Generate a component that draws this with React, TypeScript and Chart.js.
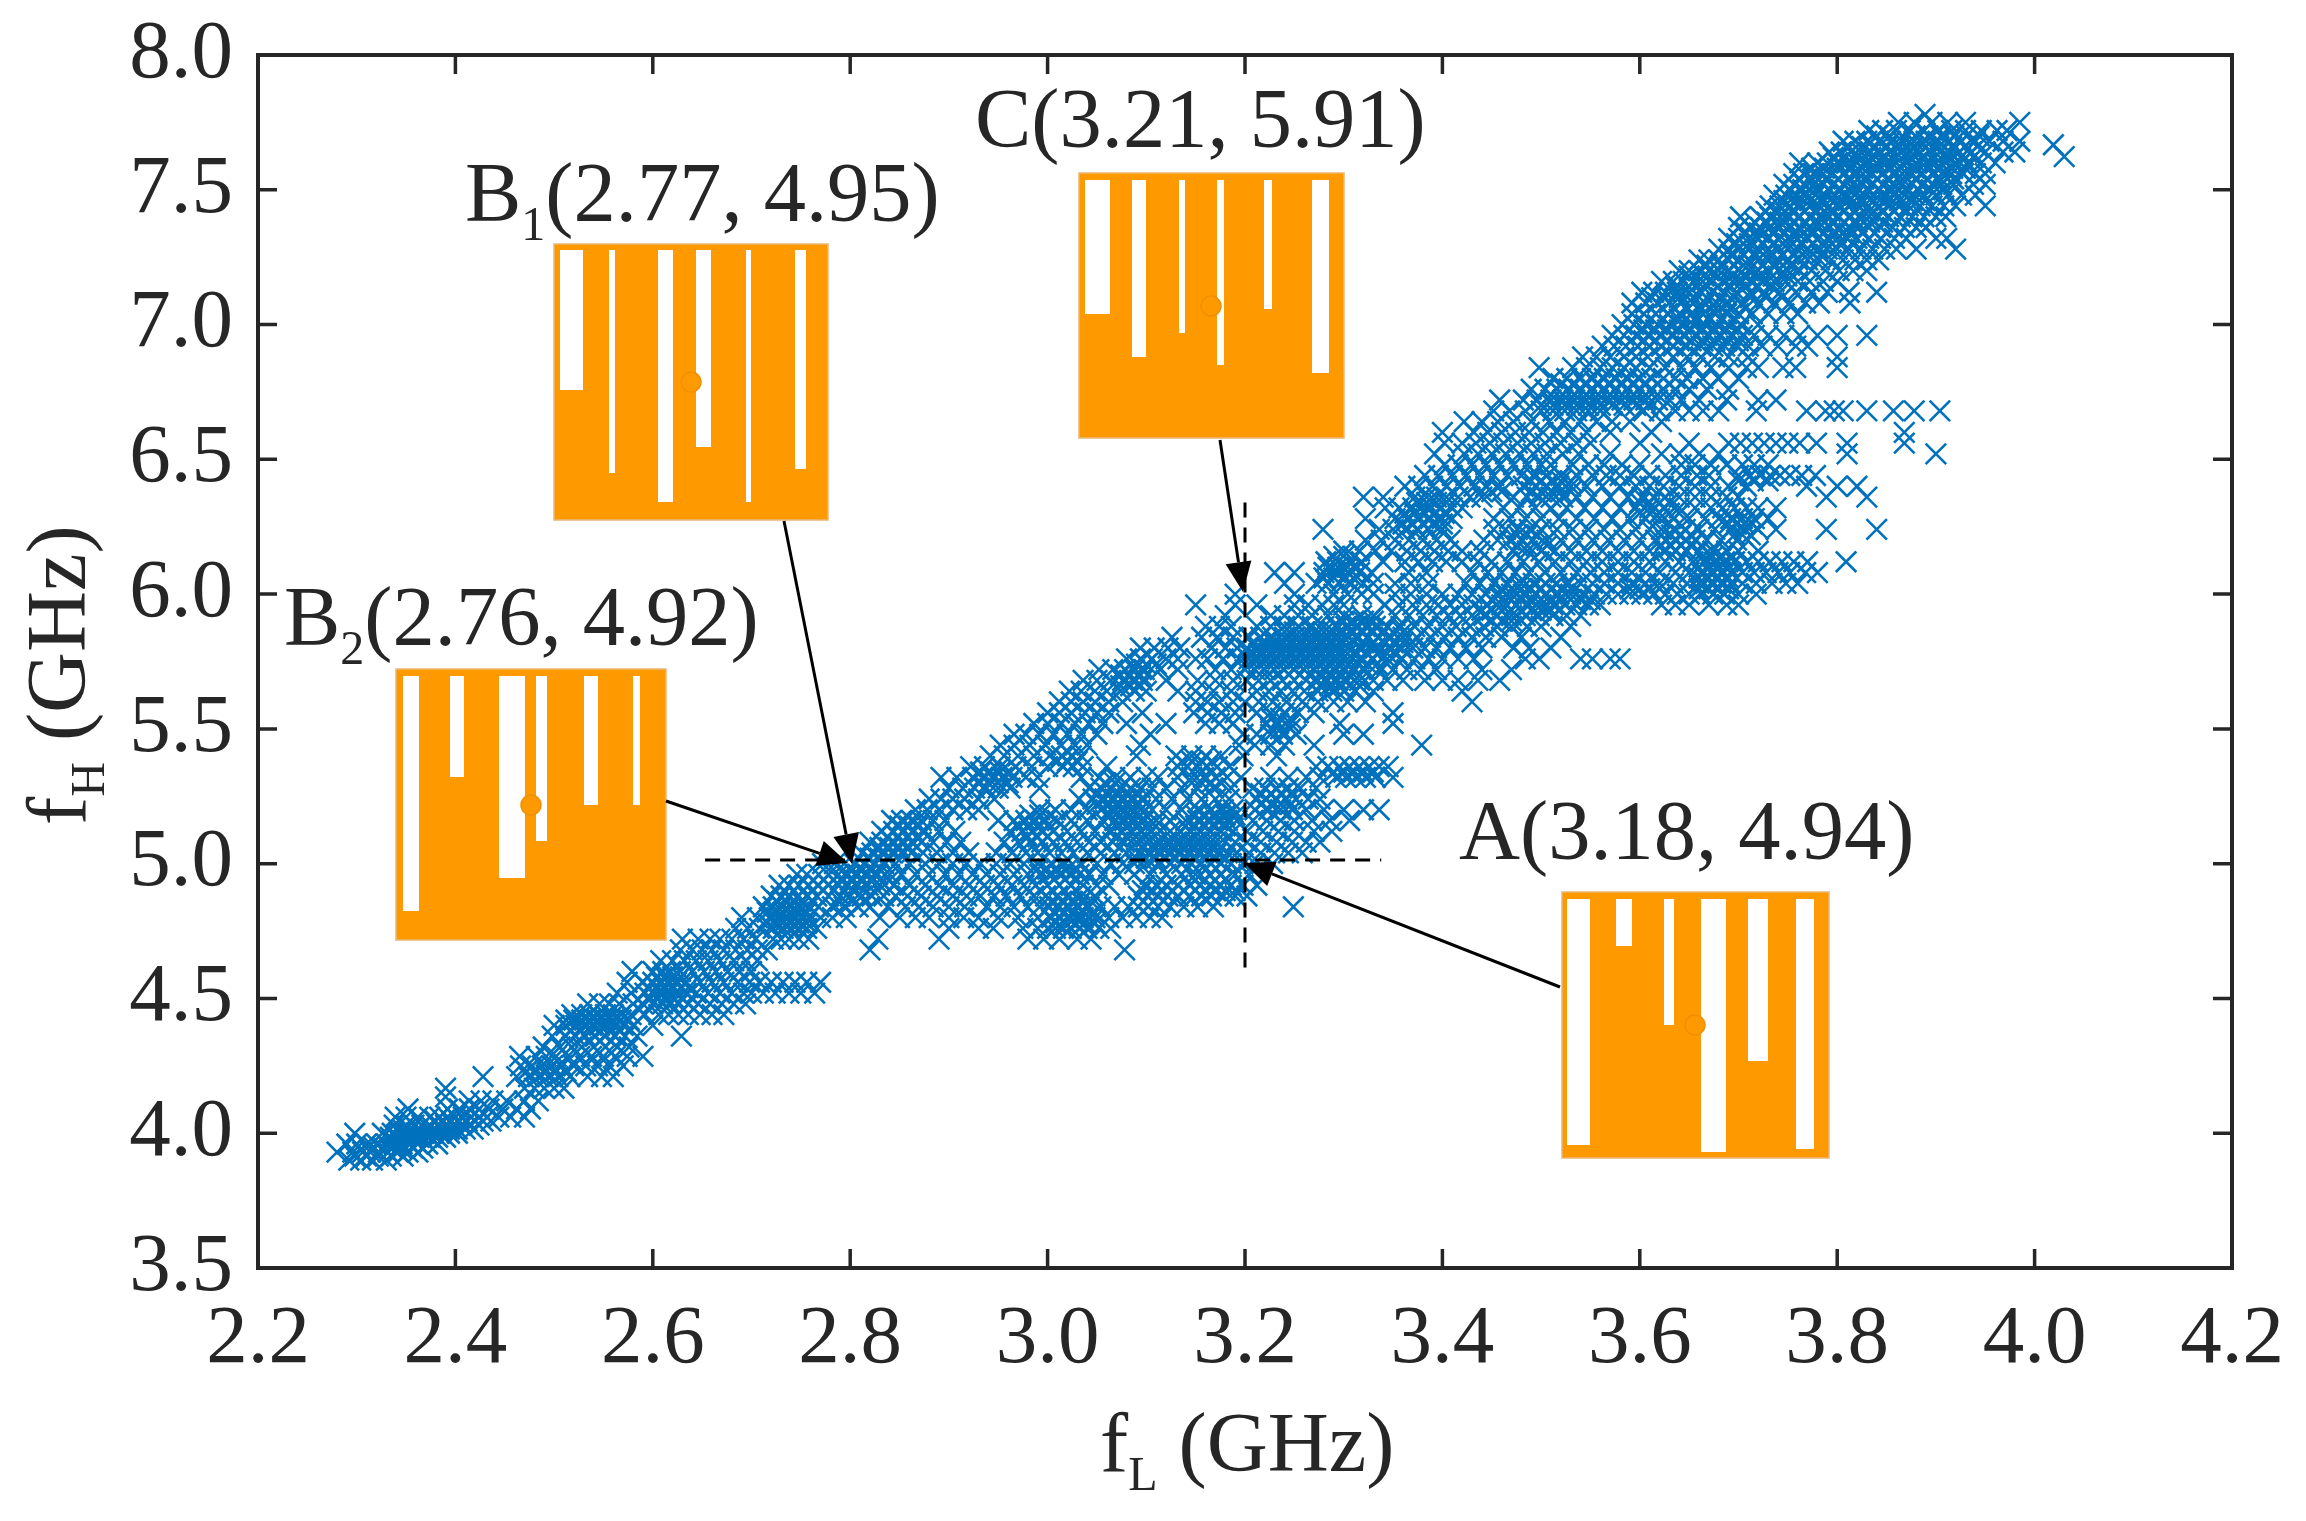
import React, { useEffect, useRef } from "react";
import { Chart, registerables } from "chart.js";

Chart.register(...registerables);

// Each row: [fH in GHz, then the fL values read on that row, in MHz]
const lowerBandRows: number[][] = [
  [3.9, 2292, 2304, 2316, 2330],
  [3.93, 2280, 2296, 2306, 2314, 2322, 2332, 2342, 2352, 2362],
  [3.96, 2290, 2300, 2310, 2320, 2330, 2338, 2346, 2354, 2362, 2372, 2382],
  [4.0, 2298, 2326, 2336, 2344, 2352, 2360, 2368, 2376, 2384, 2394, 2402],
  [4.03, 2338, 2350, 2358, 2366, 2374, 2382, 2390, 2398, 2406, 2414, 2424],
  [4.06, 2339, 2350, 2362, 2374, 2384, 2392, 2400, 2408, 2416, 2424, 2432, 2444, 2456, 2470],
  [4.09, 2352, 2392, 2404, 2414, 2424, 2434, 2448, 2462, 2476],
  [4.12, 2414, 2426, 2438, 2452, 2470, 2484],
  [4.135, 2390],
  [4.167, 2390, 2470, 2480, 2490, 2500, 2510],
  [4.21, 2428, 2462, 2474, 2484, 2494, 2504, 2516, 2534, 2548, 2560],
  [4.25, 2466, 2478, 2488, 2498, 2508, 2520, 2532, 2544, 2556, 2570],
  [4.285, 2465, 2482, 2492, 2502, 2514, 2526, 2538, 2550, 2562, 2574, 2590],
  [4.32, 2489, 2506, 2518, 2528, 2540, 2552, 2564, 2576],
  [4.36, 2498, 2512, 2522, 2532, 2542, 2552, 2562, 2572, 2584, 2629],
  [4.4, 2500, 2512, 2522, 2530, 2538, 2546, 2554, 2562, 2570, 2580, 2600],
  [4.44, 2518, 2528, 2536, 2544, 2552, 2560, 2568, 2578, 2592, 2606, 2616, 2626, 2636, 2648, 2660, 2672],
  [4.48, 2534, 2546, 2556, 2566, 2580, 2590, 2600, 2610, 2618, 2626, 2636, 2646, 2658, 2670, 2682, 2694],
  [4.52, 2564, 2578, 2592, 2600, 2608, 2616, 2624, 2634, 2644, 2656, 2668, 2680, 2692, 2700, 2712, 2724, 2738, 2750, 2764],
  [4.56, 2574, 2590, 2600, 2608, 2616, 2624, 2634, 2648, 2660, 2672, 2686, 2698, 2708, 2720, 2732, 2744, 2756, 2770],
  [4.6, 2579, 2600, 2610, 2618, 2628, 2640, 2652, 2664, 2676, 2688, 2700],
  [4.64, 2608, 2620, 2632, 2644, 2656, 2668, 2682, 2694, 2706],
  [4.68, 2628, 2640, 2650, 2660, 2672, 2684, 2696, 2706, 2716, 2820, 3078],
  [4.72, 2630, 2646, 2658, 2668, 2680, 2692, 2704, 2722, 2730, 2738, 2748, 2758, 2828, 2890, 2980, 2996, 3012, 3030, 3044],
  [4.76, 2684, 2696, 2708, 2722, 2732, 2740, 2748, 2756, 2766, 2900, 2930, 2945, 2975, 2990, 3000, 3008, 3016, 3024, 3032, 3040, 3052, 3064],
  [4.8, 2690, 2706, 2718, 2726, 2734, 2742, 2750, 2758, 2770, 2782, 2796, 2830, 2850, 2866, 2880, 2900, 2915, 2930, 2950, 2970, 2990, 3004, 3012, 3020, 3028, 3036, 3048, 3062, 3076, 3090, 3104, 3116],
];

const middleBandRows: number[][] = [
  [4.84, 2712, 2722, 2731, 2740, 2749, 2758, 2768, 2782, 2794, 2808, 2820, 2838, 2856, 2870, 2884, 2900, 2916, 2938, 2952, 2966, 2980, 2992, 3002, 3012, 3022, 3032, 3042, 3054, 3068, 3082, 3092, 3102, 3112, 3124, 3138, 3152, 3168, 3249],
  [4.88, 2720, 2730, 2738, 2747, 2756, 2766, 2778, 2790, 2800, 2812, 2822, 2834, 2846, 2858, 2872, 2888, 2904, 2918, 2932, 2946, 2958, 2972, 2986, 2998, 3010, 3022, 3034, 3048, 3092, 3102, 3112, 3122, 3132, 3144, 3156, 3166, 3178, 3190, 3202],
  [4.92, 2728, 2738, 2748, 2758, 2768, 2778, 2788, 2798, 2808, 2818, 2830, 2844, 2860, 2876, 2890, 2904, 2920, 2936, 2950, 2964, 2976, 2988, 3000, 3012, 3024, 3036, 3050, 3062, 3098, 3110, 3120, 3132, 3144, 3154, 3164, 3174, 3186, 3198, 3212],
  [4.96, 2746, 2756, 2768, 2778, 2788, 2798, 2808, 2818, 2828, 2840, 2852, 2866, 2880, 2896, 2910, 2924, 2938, 2952, 2966, 2980, 2992, 3002, 3012, 3022, 3032, 3042, 3056, 3072, 3088, 3104, 3120, 3136, 3150, 3164, 3176, 3190, 3204],
  [5.0, 2772, 2784, 2794, 2804, 2814, 2824, 2834, 2846, 2860, 2876, 2890, 2904, 2918, 2932, 2948, 2962, 2976, 2990, 3004, 3018, 3034, 3050, 3064, 3076, 3088, 3100, 3112, 3124, 3136, 3146, 3156, 3166, 3176, 3186, 3198, 3210, 3228],
  [5.04, 2812, 2822, 2832, 2842, 2852, 2862, 2874, 2888, 2904, 2920, 2948, 2964, 2978, 2990, 3002, 3014, 3026, 3040, 3054, 3068, 3080, 3092, 3102, 3112, 3122, 3132, 3142, 3152, 3162, 3172, 3182, 3192, 3204, 3216, 3230, 3244, 3258],
  [5.08, 2820, 2832, 2842, 2852, 2862, 2872, 2884, 2898, 2912, 2956, 2970, 2982, 2994, 3006, 3018, 3030, 3042, 3054, 3066, 3078, 3090, 3100, 3110, 3120, 3130, 3140, 3150, 3160, 3170, 3180, 3190, 3202, 3216, 3232, 3248, 3262, 3276],
  [5.12, 2832, 2844, 2854, 2864, 2876, 2890, 2906, 2962, 2974, 2984, 2994, 3006, 3020, 3034, 3048, 3062, 3074, 3084, 3094, 3104, 3114, 3124, 3134, 3144, 3154, 3164, 3176, 3188, 3202, 3218, 3234, 3250, 3270, 3288],
  [5.16, 2842, 2852, 2862, 2872, 2884, 2896, 2950, 2966, 2978, 2988, 2998, 3010, 3024, 3040, 3056, 3068, 3078, 3088, 3098, 3110, 3124, 3140, 3152, 3162, 3172, 3182, 3192, 3208, 3222, 3236, 3250, 3268, 3286, 3306],
  [5.2, 2866, 2878, 2890, 2904, 2918, 2930, 2992, 3008, 3024, 3040, 3054, 3064, 3074, 3084, 3094, 3106, 3120, 3136, 3152, 3166, 3178, 3188, 3210, 3224, 3236, 3248, 3262, 3280, 3300, 3320, 3336],
  [5.24, 2880, 2892, 2904, 2916, 2930, 2946, 3032, 3046, 3058, 3068, 3078, 3088, 3098, 3110, 3126, 3142, 3156, 3170, 3184, 3212, 3222, 3232, 3242, 3252, 3264, 3276],
  [5.28, 2900, 2914, 2926, 2938, 2950, 2962, 2992, 3042, 3054, 3064, 3074, 3084, 3094, 3106, 3120, 3136, 3152, 3168, 3186, 3208, 3220, 3232, 3244, 3256, 3272],
  [5.32, 2892, 2908, 2924, 2934, 2944, 2954, 2964, 2978, 2990, 3034, 3052, 3068, 3084, 3100, 3112, 3132, 3146, 3158, 3170, 3182, 3196, 3226, 3244, 3262, 3276, 3292, 3302, 3312, 3322, 3332, 3350],
  [5.36, 2922, 2936, 2952, 2968, 2984, 3000, 3016, 3026, 3036, 3060, 3132, 3142, 3152, 3162, 3172, 3184, 3272, 3284, 3296, 3306, 3316, 3326, 3336, 3345],
  [5.4, 2942, 2956, 2970, 2986, 3002, 3014, 3024, 3034, 3090, 3130, 3146, 3160, 3176, 3198, 3232],
  [5.44, 2952, 2966, 2982, 2998, 3014, 3028, 3040, 3094, 3194, 3210, 3226, 3240, 3270, 3379],
  [5.48, 2966, 2978, 2992, 3006, 3020, 3034, 3050, 3104, 3198, 3212, 3226, 3238, 3252, 3300, 3320],
  [5.52, 2986, 3000, 3014, 3028, 3042, 3056, 3080, 3120, 3160, 3174, 3188, 3222, 3234, 3246, 3296, 3350],
  [5.56, 3000, 3012, 3024, 3038, 3050, 3062, 3096, 3148, 3162, 3176, 3190, 3212, 3226, 3240, 3254, 3270, 3350],
  [5.6, 3012, 3024, 3036, 3048, 3062, 3076, 3150, 3162, 3174, 3188, 3200, 3214, 3228, 3242, 3258, 3274, 3290, 3304, 3322, 3430],
  [5.64, 3022, 3034, 3048, 3060, 3074, 3088, 3100, 3132, 3150, 3168, 3186, 3212, 3224, 3236, 3248, 3260, 3274, 3288, 3300, 3312, 3330, 3420],
  [5.68, 3036, 3050, 3064, 3076, 3086, 3096, 3120, 3152, 3170, 3188, 3202, 3214, 3226, 3238, 3250, 3262, 3274, 3284, 3294, 3304, 3316, 3330, 3344, 3360, 3382, 3400, 3416, 3436, 3458],
  [5.72, 3052, 3066, 3078, 3088, 3098, 3114, 3132, 3170, 3186, 3200, 3210, 3220, 3230, 3240, 3250, 3260, 3270, 3280, 3290, 3300, 3310, 3322, 3336, 3350, 3364, 3378, 3394, 3440, 3470],
  [5.76, 3080, 3094, 3106, 3120, 3132, 3150, 3162, 3178, 3194, 3204, 3214, 3224, 3234, 3244, 3254, 3264, 3274, 3284, 3294, 3304, 3316, 3330, 3344, 3358, 3372, 3386, 3400, 3416, 3432, 3484, 3498, 3540, 3552, 3570, 3580],
  [5.8, 3094, 3108, 3122, 3134, 3166, 3180, 3192, 3202, 3212, 3222, 3232, 3242, 3252, 3262, 3272, 3282, 3292, 3304, 3318, 3332, 3346, 3358, 3370, 3382, 3394, 3408, 3424, 3440, 3472, 3488, 3510],
  [5.84, 3126, 3156, 3172, 3188, 3204, 3216, 3228, 3240, 3250, 3260, 3270, 3280, 3290, 3300, 3312, 3324, 3336, 3348, 3360, 3374, 3388, 3402, 3416, 3430, 3444, 3460, 3480, 3520],
  [5.88, 3160, 3174, 3186, 3212, 3226, 3240, 3254, 3268, 3280, 3292, 3302, 3312, 3322, 3332, 3344, 3358, 3372, 3386, 3400, 3414, 3428, 3442, 3456, 3470, 3486, 3500, 3530],
];

const upperBandRows: number[][] = [
  [5.92, 3180, 3226, 3240, 3254, 3268, 3284, 3300, 3318, 3330, 3352, 3366, 3380, 3394, 3406, 3418, 3430, 3442, 3456, 3470, 3484, 3498, 3512, 3526, 3540],
  [5.96, 3150, 3190, 3212, 3250, 3264, 3278, 3290, 3300, 3342, 3356, 3370, 3384, 3396, 3408, 3420, 3432, 3446, 3460, 3474, 3488, 3500, 3512, 3524, 3536, 3548, 3560, 3622, 3636, 3650, 3670, 3688, 3700],
  [6.0, 3190, 3250, 3290, 3304, 3318, 3330, 3352, 3368, 3384, 3400, 3416, 3430, 3444, 3458, 3470, 3482, 3494, 3506, 3518, 3530, 3542, 3554, 3566, 3578, 3590, 3602, 3614, 3626, 3638, 3650, 3662, 3674, 3686, 3700, 3718],
  [6.04, 3240, 3272, 3284, 3296, 3308, 3320, 3330, 3352, 3368, 3386, 3424, 3438, 3452, 3466, 3480, 3492, 3504, 3516, 3528, 3540, 3552, 3564, 3578, 3592, 3606, 3620, 3634, 3648, 3660, 3672, 3682, 3692, 3704, 3718, 3734, 3748, 3760],
  [6.08, 3230, 3250, 3280, 3292, 3304, 3316, 3328, 3366, 3384, 3430, 3446, 3460, 3474, 3488, 3504, 3520, 3536, 3550, 3564, 3578, 3592, 3606, 3620, 3636, 3650, 3662, 3672, 3682, 3692, 3704, 3716, 3728, 3740, 3752, 3768, 3780],
  [6.12, 3282, 3294, 3306, 3318, 3340, 3362, 3376, 3390, 3404, 3420, 3436, 3450, 3466, 3482, 3498, 3514, 3530, 3546, 3562, 3578, 3594, 3610, 3626, 3640, 3654, 3666, 3676, 3686, 3696, 3708, 3720, 3732, 3744, 3756, 3770, 3809],
  [6.16, 3300, 3316, 3332, 3348, 3364, 3378, 3392, 3406, 3420, 3438, 3472, 3486, 3500, 3514, 3530, 3546, 3562, 3578, 3594, 3610, 3624, 3636, 3648, 3660, 3674, 3688, 3700, 3720],
  [6.2, 3322, 3338, 3352, 3366, 3380, 3394, 3408, 3442, 3456, 3468, 3480, 3492, 3506, 3520, 3536, 3552, 3568, 3584, 3600, 3616, 3626, 3636, 3646, 3656, 3668, 3682, 3698],
  [6.24, 3279, 3336, 3350, 3362, 3374, 3386, 3400, 3452, 3464, 3476, 3488, 3500, 3516, 3532, 3548, 3564, 3580, 3596, 3610, 3622, 3634, 3646, 3660, 3676, 3692, 3706, 3720, 3738, 3789, 3840],
  [6.28, 3322, 3352, 3364, 3376, 3388, 3400, 3410, 3452, 3468, 3484, 3500, 3518, 3536, 3554, 3572, 3590, 3606, 3620, 3634, 3650, 3666, 3680, 3692, 3704, 3716, 3730],
  [6.32, 3342, 3356, 3370, 3384, 3398, 3410, 3420, 3462, 3478, 3494, 3510, 3526, 3544, 3562, 3580, 3596, 3610, 3624, 3640, 3656, 3672, 3684, 3696, 3708, 3720, 3738],
  [6.36, 3320, 3340, 3372, 3384, 3394, 3404, 3416, 3428, 3440, 3472, 3486, 3498, 3510, 3522, 3536, 3552, 3570, 3588, 3602, 3614, 3626, 3640, 3656, 3672, 3688, 3700, 3789, 3830],
  [6.4, 3362, 3376, 3390, 3404, 3418, 3432, 3444, 3458, 3482, 3494, 3506, 3518, 3530, 3546, 3562, 3580, 3596, 3610, 3624, 3640, 3656, 3672, 3690, 3708, 3769, 3800, 3820],
  [6.44, 3382, 3396, 3410, 3424, 3438, 3452, 3466, 3480, 3492, 3506, 3520, 3536, 3552, 3566, 3580, 3594, 3610, 3626, 3642, 3658, 3670, 3700, 3712, 3722, 3732, 3742, 3752, 3764, 3778],
  [6.48, 3402, 3416, 3430, 3444, 3458, 3472, 3486, 3500, 3510, 3532, 3548, 3564, 3582, 3600, 3642, 3656, 3672, 3688, 3704, 3716, 3730],
  [6.52, 3392, 3422, 3436, 3450, 3464, 3478, 3492, 3506, 3522, 3538, 3570, 3622, 3640, 3660, 3680, 3810, 3900],
  [6.56, 3402, 3420, 3434, 3448, 3462, 3476, 3490, 3504, 3520, 3536, 3550, 3600, 3650, 3690, 3702, 3714, 3726, 3738, 3750, 3762, 3779, 3810, 3868],
  [6.6, 3400, 3432, 3446, 3460, 3474, 3488, 3502, 3516, 3530, 3546, 3570, 3612, 3868],
  [6.64, 3422, 3440, 3456, 3472, 3490, 3508, 3524, 3540, 3556, 3572, 3590, 3622],
  [6.68, 3452, 3468, 3484, 3500, 3512, 3524, 3536, 3548, 3560, 3604, 3620, 3636, 3650, 3664, 3680, 3718, 3769, 3788, 3797, 3806, 3830, 3857, 3878, 3904],
  [6.72, 3458, 3482, 3496, 3510, 3522, 3534, 3546, 3558, 3570, 3582, 3594, 3606, 3618, 3630, 3642, 3660, 3688, 3720, 3738],
  [6.76, 3490, 3504, 3516, 3528, 3540, 3552, 3564, 3576, 3588, 3600, 3612, 3624, 3636, 3650, 3668, 3690],
  [6.8, 3512, 3526, 3540, 3552, 3564, 3576, 3588, 3600, 3612, 3624, 3636, 3648, 3664, 3680, 3700],
  [6.84, 3498, 3532, 3546, 3560, 3572, 3584, 3596, 3610, 3626, 3642, 3656, 3672, 3690, 3708, 3720, 3745, 3758, 3800],
  [6.88, 3542, 3556, 3570, 3584, 3596, 3608, 3620, 3634, 3648, 3662, 3676, 3690, 3710, 3800],
  [6.92, 3562, 3574, 3586, 3598, 3610, 3622, 3634, 3648, 3662, 3674, 3686, 3698, 3710, 3724, 3740, 3758, 3770],
  [6.96, 3572, 3584, 3596, 3608, 3620, 3632, 3644, 3656, 3668, 3680, 3692, 3704, 3716, 3730, 3746, 3762, 3780, 3800, 3830],
];

const topLobeRows: number[][] = [
  [7.0, 3582, 3594, 3606, 3618, 3630, 3642, 3654, 3666, 3678, 3690, 3702, 3720],
  [7.04, 3592, 3604, 3616, 3628, 3640, 3652, 3664, 3676, 3688, 3700, 3714, 3730, 3746, 3760],
  [7.08, 3592, 3606, 3618, 3630, 3642, 3654, 3666, 3678, 3690, 3704, 3720, 3736, 3752, 3768, 3782, 3813],
  [7.12, 3602, 3614, 3626, 3638, 3650, 3662, 3674, 3686, 3698, 3712, 3726, 3742, 3758, 3774, 3790, 3812, 3840],
  [7.16, 3622, 3634, 3644, 3654, 3664, 3674, 3684, 3694, 3704, 3714, 3724, 3736, 3748, 3760, 3772, 3786, 3800],
  [7.2, 3640, 3650, 3660, 3670, 3680, 3690, 3700, 3710, 3720, 3730, 3740, 3750, 3762, 3774, 3788, 3802, 3816, 3830],
  [7.24, 3660, 3670, 3680, 3690, 3700, 3710, 3720, 3730, 3740, 3750, 3760, 3770, 3782, 3794, 3806, 3818, 3830, 3842],
  [7.28, 3680, 3690, 3700, 3710, 3720, 3730, 3740, 3750, 3760, 3770, 3780, 3790, 3800, 3812, 3824, 3836, 3848, 3860, 3880, 3920],
  [7.32, 3690, 3700, 3710, 3720, 3730, 3740, 3750, 3760, 3770, 3780, 3790, 3800, 3810, 3820, 3832, 3844, 3858, 3870, 3900, 3911],
  [7.36, 3700, 3712, 3722, 3732, 3742, 3752, 3762, 3772, 3782, 3792, 3802, 3812, 3822, 3832, 3844, 3856, 3868, 3880, 3890],
  [7.4, 3702, 3722, 3732, 3742, 3752, 3762, 3772, 3782, 3792, 3802, 3812, 3822, 3832, 3842, 3852, 3864, 3876, 3888, 3900, 3910],
  [7.44, 3732, 3742, 3752, 3762, 3772, 3782, 3792, 3802, 3812, 3822, 3832, 3842, 3852, 3862, 3872, 3884, 3896, 3908, 3920, 3950],
  [7.48, 3736, 3748, 3758, 3768, 3778, 3788, 3798, 3808, 3818, 3828, 3838, 3848, 3858, 3868, 3878, 3888, 3900, 3912, 3926, 3940],
  [7.52, 3746, 3756, 3766, 3776, 3786, 3796, 3806, 3816, 3826, 3836, 3846, 3856, 3866, 3876, 3886, 3896, 3906, 3918, 3938, 3950],
  [7.56, 3756, 3766, 3776, 3786, 3796, 3806, 3816, 3826, 3836, 3846, 3856, 3866, 3876, 3886, 3896, 3906, 3916, 3928, 3940, 3950],
  [7.6, 3762, 3780, 3790, 3800, 3810, 3820, 3830, 3840, 3850, 3860, 3870, 3880, 3890, 3900, 3910, 3920, 3932, 3946, 3960],
  [7.623, 4030],
  [7.64, 3792, 3804, 3814, 3824, 3834, 3844, 3854, 3864, 3874, 3884, 3894, 3904, 3914, 3924, 3936, 3950, 3968, 3980],
  [7.667, 4019],
  [7.68, 3806, 3818, 3830, 3842, 3854, 3866, 3878, 3890, 3902, 3914, 3926, 3940, 3954, 3968, 3985],
  [7.72, 3832, 3846, 3860, 3874, 3888, 3902, 3916, 3930, 3946, 3962, 3972],
  [7.75, 3862, 3878, 3896, 3912, 3930, 3985],
  [7.78, 3889],
];

// Solid patches where the crosses pile up, read on rows in between those above
const topLobeSolidRows: number[][] = [
  [7.02, 3640, 3655, 3669, 3683, 3697],
  [7.06, 3635, 3649, 3663, 3677, 3691, 3707],
  [7.1, 3612, 3626, 3640, 3654, 3668, 3682, 3696, 3712, 3728, 3744],
  [7.14, 3636, 3650, 3664, 3678, 3692, 3706, 3720, 3734],
  [7.18, 3650, 3665, 3679, 3693, 3707, 3721, 3735, 3749],
  [7.22, 3668, 3682, 3696, 3710, 3724, 3738, 3752],
  [7.26, 3692, 3705, 3718, 3731, 3744, 3757, 3770, 3783],
  [7.3, 3698, 3711, 3724, 3737, 3750, 3763, 3776, 3789, 3802, 3815],
  [7.34, 3708, 3721, 3734, 3747, 3760, 3773, 3786, 3799, 3812, 3825, 3838],
  [7.38, 3716, 3729, 3742, 3755, 3768, 3781, 3794, 3807, 3820, 3833, 3846],
  [7.42, 3728, 3741, 3754, 3767, 3780, 3793, 3806, 3819, 3832, 3845, 3858, 3871],
  [7.46, 3746, 3759, 3772, 3785, 3798, 3811, 3824, 3837, 3850, 3863, 3876, 3889],
  [7.5, 3752, 3765, 3778, 3791, 3804, 3817, 3830, 3843, 3856, 3869, 3882, 3895, 3908],
  [7.54, 3762, 3775, 3788, 3801, 3814, 3827, 3840, 3853, 3866, 3879, 3892, 3905, 3918],
  [7.58, 3774, 3787, 3800, 3813, 3826, 3839, 3852, 3865, 3878, 3891, 3904, 3917, 3930],
  [7.62, 3796, 3808, 3821, 3834, 3847, 3860, 3873, 3886, 3899, 3912, 3925, 3938],
  [7.66, 3812, 3825, 3838, 3851, 3864, 3877, 3890, 3903, 3916, 3929, 3942],
  [7.7, 3840, 3853, 3866, 3879, 3892, 3905, 3918, 3931, 3944],
];

const lowerPatchRows: number[][] = [
  [3.915, 2298, 2310, 2322, 2335, 2347],
  [3.945, 2318, 2327, 2336, 2345, 2357, 2367],
  [3.985, 2334, 2342, 2350, 2358, 2366, 2374, 2382, 2390],
  [4.015, 2346, 2354, 2362, 2370, 2378, 2386, 2394, 2402, 2410, 2418],
  [4.045, 2380, 2388, 2396, 2404, 2412, 2420, 2428, 2436],
  [4.23, 2472, 2482, 2492, 2502, 2512],
  [4.42, 2512, 2520, 2528, 2536, 2544, 2552, 2560, 2568, 2576],
  [4.38, 2516, 2526, 2536, 2546, 2556, 2566],
  [4.5, 2598, 2606, 2614, 2622, 2630],
  [4.54, 2596, 2604, 2612, 2620, 2628, 2636],
  [4.58, 2604, 2612, 2620, 2628],
  [4.78, 2716, 2724, 2732, 2740, 2748, 2756],
  [4.82, 2716, 2724, 2732, 2740, 2748, 2756],
  [4.86, 2726, 2734, 2742, 2750, 2790, 2802, 2814, 3004, 3014, 3024, 3034, 3044],
];

const middlePatchRows: number[][] = [
  [4.78, 3008, 3018, 3028, 3038, 3048],
  [4.82, 3006, 3016, 3026, 3036, 3046],
  [4.9, 3096, 3106, 3116, 3126, 3160, 3170, 3180, 3190],
  [4.94, 2790, 2800, 2810, 2820, 2830, 2840, 3150, 3160, 3170, 3180],
  [4.98, 2800, 2810, 2820, 2830, 2990, 3000, 3010, 3020, 3030],
  [5.02, 2820, 2830, 2840, 3090, 3100, 3110, 3120, 3130, 3140, 3150, 3160, 3170, 3180],
  [5.06, 2830, 2840, 2850, 2860, 3110, 3120, 3130, 3140, 3150, 3160, 3170],
  [5.1, 2838, 2848, 2858, 2868, 2980, 2990, 3000, 3070, 3080, 3090, 3100, 3130, 3140, 3150, 3160],
  [5.14, 2850, 2860, 2870, 2970, 2980, 2990, 3000, 3070, 3080, 3090, 3100, 3110, 3140, 3150, 3160, 3170, 3180],
  [5.18, 2982, 2992, 3002, 3064, 3074, 3084, 3094, 3150, 3160, 3170, 3180, 3190],
  [5.22, 3050, 3060, 3070, 3080, 3090, 3216, 3226, 3236, 3246],
  [5.26, 3050, 3060, 3070, 3080, 3090, 3216, 3226, 3236, 3246],
  [5.3, 2930, 2940, 2950, 2960, 3058, 3068, 3078, 3146, 3156, 3166, 3176],
  [5.34, 2932, 2942, 2952, 2962, 3290, 3300, 3310, 3320, 3330],
  [5.38, 3010, 3020, 3030, 3136, 3146, 3156, 3166],
  [5.5, 3226, 3236, 3246],
  [5.54, 3226, 3236, 3246],
  [5.66, 3074, 3084, 3094, 3276, 3286, 3296, 3306, 3316],
  [5.7, 3074, 3084, 3094, 3276, 3286, 3296, 3306, 3316],
  [5.74, 3090, 3100, 3110, 3204, 3214, 3224, 3234, 3244, 3254, 3264, 3274, 3284, 3294, 3304, 3314, 3324, 3334, 3344],
  [5.78, 3204, 3214, 3224, 3234, 3244, 3254, 3264, 3274, 3284, 3294, 3304, 3314, 3324, 3334, 3344, 3354],
  [5.82, 3210, 3220, 3230, 3240, 3250, 3260, 3270, 3280, 3290, 3300, 3310, 3320, 3330, 3340, 3350, 3360, 3370],
  [5.86, 3240, 3250, 3260, 3270, 3280, 3290, 3300, 3310, 3320, 3330, 3340, 3350, 3360],
];

const upperPatchRows: number[][] = [
  [5.9, 3300, 3310, 3320, 3330, 3450, 3460, 3470, 3480],
  [5.94, 3440, 3450, 3460, 3470, 3480, 3490, 3500, 3510],
  [5.98, 3450, 3460, 3470, 3480, 3490, 3500, 3510, 3520, 3530, 3540, 3550],
  [6.02, 3460, 3470, 3480, 3490, 3500, 3510, 3520, 3530, 3590, 3600, 3610, 3620, 3660, 3670, 3680, 3690],
  [6.06, 3280, 3290, 3300, 3310, 3660, 3670, 3680, 3690],
  [6.1, 3284, 3294, 3304, 3314, 3660, 3670, 3680, 3690],
  [6.14, 3290, 3300, 3310, 3664, 3674, 3684, 3694],
  [6.18, 3476, 3486, 3496, 3506, 3622, 3632, 3642, 3652],
  [6.22, 3476, 3486, 3496, 3622, 3632, 3642, 3652, 3696, 3704, 3712],
  [6.26, 3360, 3370, 3380, 3390, 3400, 3690, 3698, 3706, 3714],
  [6.3, 3362, 3372, 3382, 3392, 3402, 3600, 3610, 3620, 3630, 3640],
  [6.34, 3374, 3384, 3394, 3404, 3600, 3610, 3620, 3630],
  [6.38, 3440, 3450, 3460, 3490, 3500, 3510, 3520, 3530],
  [6.42, 3490, 3500, 3510, 3520, 3530, 3700, 3715, 3730],
  [6.7, 3500, 3512, 3524, 3536, 3548, 3560, 3572, 3584, 3596, 3608],
  [6.74, 3510, 3522, 3534, 3546, 3558, 3570, 3582, 3594, 3606, 3618],
  [6.78, 3520, 3532, 3544, 3556, 3568, 3580, 3592, 3604],
  [6.94, 3604, 3616, 3628, 3640, 3652, 3664, 3676, 3688, 3700],
  [6.98, 3604, 3616, 3628, 3640, 3652, 3664, 3676, 3688, 3700],
];

const xTickLabels = ["2.2", "2.4", "2.6", "2.8", "3.0", "3.2", "3.4", "3.6", "3.8", "4.0", "4.2"];
const verticalGuideX = [3.2, 3.2];
const verticalGuideY = [6.34, 4.585];
const horizontalGuideX = [2.653, 3.338];
const horizontalGuideY = [5.014, 5.014];

const SCATTER_BLUE = "#0072BD";
const INK = "#262626";
const ORANGE = "#FF9900";
const SERIF = '"Liberation Serif", "Times New Roman", serif';

type Run = { t: string; sub?: boolean };
const labelB1: Run[] = [{ t: "B" }, { t: "1", sub: true }, { t: "(2.77, 4.95)" }];
const labelB2: Run[] = [{ t: "B" }, { t: "2", sub: true }, { t: "(2.76, 4.92)" }];
const labelC: Run[] = [{ t: "C(3.21, 5.91)" }];
const labelA: Run[] = [{ t: "A(3.18, 4.94)" }];
const labelXAxis: Run[] = [{ t: "f" }, { t: "L", sub: true }, { t: " (GHz)" }];
const labelYAxis: Run[] = [{ t: "f" }, { t: "H", sub: true }, { t: " (GHz)" }];

type Inset = {
  box: [number, number, number, number];
  slitTop: number;
  slits: [number, number, number][];
  dot: [number, number];
};
const insets: Inset[] = [
  {
    box: [554, 244, 828, 520],
    slitTop: 250,
    slits: [[560, 583, 390], [609, 615, 473], [658, 673, 502], [696, 711, 447], [746, 751, 502], [795, 806, 469]],
    dot: [691, 382],
  },
  {
    box: [1079, 173, 1344, 438],
    slitTop: 180,
    slits: [[1085, 1110, 314], [1132, 1146, 357], [1179, 1185, 333], [1217, 1224, 365], [1264, 1272, 309], [1312, 1329, 373]],
    dot: [1211, 306],
  },
  {
    box: [396, 669, 666, 940],
    slitTop: 676,
    slits: [[403, 419, 911], [450, 464, 777], [499, 525, 878], [536, 547, 841], [584, 598, 805], [633, 640, 805]],
    dot: [531, 805],
  },
  {
    box: [1562, 892, 1829, 1158],
    slitTop: 899,
    slits: [[1567, 1590, 1145], [1616, 1632, 946], [1664, 1674, 1025], [1701, 1726, 1152], [1748, 1768, 1061], [1796, 1814, 1149]],
    dot: [1695, 1025],
  },
];

const arrows: [number, number, number, number][] = [
  [784, 521, 852, 864],
  [666, 801, 848, 863],
  [1220, 440, 1243, 592],
  [1560, 987, 1244, 863],
];

const scatterPoints = [
  ...lowerBandRows,
  ...middleBandRows,
  ...upperBandRows,
  ...topLobeRows,
  ...topLobeSolidRows,
  ...lowerPatchRows,
  ...middlePatchRows,
  ...upperPatchRows,
].flatMap(([fH, ...fLs]) => fLs.map((fL) => ({ x: fL / 1000, y: fH })));

function drawRuns(ctx: CanvasRenderingContext2D, runs: Run[], x: number, y: number) {
  let pen = x;
  ctx.textAlign = "left";
  ctx.textBaseline = "alphabetic";
  ctx.fillStyle = INK;
  for (const run of runs) {
    ctx.font = `${run.sub ? 48 : 84.5}px ${SERIF}`;
    ctx.fillText(run.t, pen, run.sub ? y + 19 : y);
    pen += ctx.measureText(run.t).width;
  }
}

const framePlugin = {
  id: "frame",
  beforeDatasetsDraw(chart: any) {
    const { ctx, chartArea: a, scales } = chart;
    ctx.save();
    ctx.strokeStyle = INK;
    ctx.lineWidth = 3.5;
    for (const t of scales.x.ticks) {
      const px = scales.x.getPixelForValue(t.value);
      ctx.beginPath();
      ctx.moveTo(px, a.bottom);
      ctx.lineTo(px, a.bottom - 19);
      ctx.moveTo(px, a.top);
      ctx.lineTo(px, a.top + 19);
      ctx.stroke();
    }
    for (const t of scales.y.ticks) {
      const py = scales.y.getPixelForValue(t.value);
      ctx.beginPath();
      ctx.moveTo(a.left, py);
      ctx.lineTo(a.left + 19, py);
      ctx.moveTo(a.right, py);
      ctx.lineTo(a.right - 19, py);
      ctx.stroke();
    }
    ctx.lineWidth = 4;
    ctx.strokeRect(a.left, a.top, a.right - a.left, a.bottom - a.top);
    ctx.restore();
  },
};

const annotationPlugin = {
  id: "annotations",
  afterDatasetsDraw(chart: any) {
    const { ctx } = chart;
    ctx.save();
    for (const inset of insets) {
      const [x0, y0, x1, y1] = inset.box;
      ctx.fillStyle = ORANGE;
      ctx.fillRect(x0, y0, x1 - x0, y1 - y0);
      ctx.strokeStyle = "#E9B779";
      ctx.lineWidth = 1.5;
      ctx.strokeRect(x0, y0, x1 - x0, y1 - y0);
      ctx.fillStyle = "#FFFFFF";
      for (const [sx0, sx1, sBottom] of inset.slits) {
        ctx.fillRect(sx0, inset.slitTop, sx1 - sx0, sBottom - inset.slitTop);
      }
      ctx.beginPath();
      ctx.arc(inset.dot[0], inset.dot[1], 10, 0, Math.PI * 2);
      ctx.fillStyle = ORANGE;
      ctx.fill();
      ctx.strokeStyle = "#F09000";
      ctx.lineWidth = 1.5;
      ctx.stroke();
    }
    ctx.strokeStyle = "#000000";
    ctx.fillStyle = "#000000";
    for (const [x0, y0, x1, y1] of arrows) {
      const ang = Math.atan2(y1 - y0, x1 - x0);
      const headLen = 30;
      const headHalf = 13;
      const bx = x1 - headLen * Math.cos(ang);
      const by = y1 - headLen * Math.sin(ang);
      ctx.lineWidth = 3;
      ctx.beginPath();
      ctx.moveTo(x0, y0);
      ctx.lineTo(bx, by);
      ctx.stroke();
      ctx.beginPath();
      ctx.moveTo(x1, y1);
      ctx.lineTo(bx - headHalf * Math.sin(ang), by + headHalf * Math.cos(ang));
      ctx.lineTo(bx + headHalf * Math.sin(ang), by - headHalf * Math.cos(ang));
      ctx.closePath();
      ctx.fill();
    }
    drawRuns(ctx, labelB1, 465, 221);
    drawRuns(ctx, labelC, 975, 147);
    drawRuns(ctx, labelB2, 284, 645);
    drawRuns(ctx, labelA, 1459, 859);
    drawRuns(ctx, labelXAxis, 1100, 1471);
    ctx.translate(85, 825);
    ctx.rotate(-Math.PI / 2);
    drawRuns(ctx, labelYAxis, 0, 0);
    ctx.restore();
  },
};

function clearScalePadding(scale: any) {
  scale.paddingLeft = 0;
  scale.paddingRight = 0;
  scale.paddingTop = 0;
  scale.paddingBottom = 0;
}

export default function App() {
  const ref = useRef<HTMLCanvasElement>(null);
  useEffect(() => {
    const chart = new Chart(ref.current!, {
      type: "scatter",
      data: {
        datasets: [
          {
            label: "Guide fL",
            data: verticalGuideX.map((x, i) => ({ x, y: verticalGuideY[i] })),
            showLine: true,
            borderColor: "#000000",
            borderWidth: 3,
            borderDash: [15, 10],
            pointRadius: 0,
            order: 1,
          },
          {
            label: "Guide fH",
            data: horizontalGuideX.map((x, i) => ({ x, y: horizontalGuideY[i] })),
            showLine: true,
            borderColor: "#000000",
            borderWidth: 3,
            borderDash: [15, 10],
            pointRadius: 0,
            order: 1,
          },
          {
            label: "Designs",
            data: scatterPoints,
            pointStyle: "crossRot",
            pointRadius: 14.5,
            pointBorderWidth: 2.6,
            pointBorderColor: SCATTER_BLUE,
            pointBackgroundColor: SCATTER_BLUE,
            showLine: false,
            order: 2,
          },
        ],
      },
      options: {
        animation: false,
        responsive: false,
        devicePixelRatio: 1,
        layout: { padding: { top: 55, right: 74, left: 0, bottom: 0 } },
        plugins: { legend: { display: false }, tooltip: { enabled: false } },
        scales: {
          x: {
            type: "linear",
            min: 2.2,
            max: 4.2,
            grid: { display: false },
            border: { display: false },
            afterBuildTicks: (scale: any) => {
              scale.ticks = xTickLabels.map((l) => ({ value: Number(l) }));
            },
            afterFit: (scale: any) => {
              scale.height = 253;
              clearScalePadding(scale);
            },
            ticks: {
              autoSkip: false,
              maxRotation: 0,
              padding: 14,
              color: INK,
              font: { family: SERIF, size: 83 },
              callback: (v: any) => Number(v).toFixed(1),
            },
          },
          y: {
            type: "linear",
            min: 3.5,
            max: 8,
            grid: { display: false },
            border: { display: false },
            afterFit: (scale: any) => {
              scale.width = 258;
              clearScalePadding(scale);
            },
            ticks: {
              stepSize: 0.5,
              autoSkip: false,
              padding: 17,
              color: INK,
              font: { family: SERIF, size: 83 },
              callback: (v: any) => Number(v).toFixed(1),
            },
          },
        },
      },
      plugins: [framePlugin, annotationPlugin],
    } as any);
    return () => chart.destroy();
  }, []);
  return (
    <canvas
      ref={ref}
      width={2306}
      height={1521}
      style={{ position: "fixed", left: 0, top: 0, width: 2306, height: 1521, display: "block" }}
    />
  );
}
